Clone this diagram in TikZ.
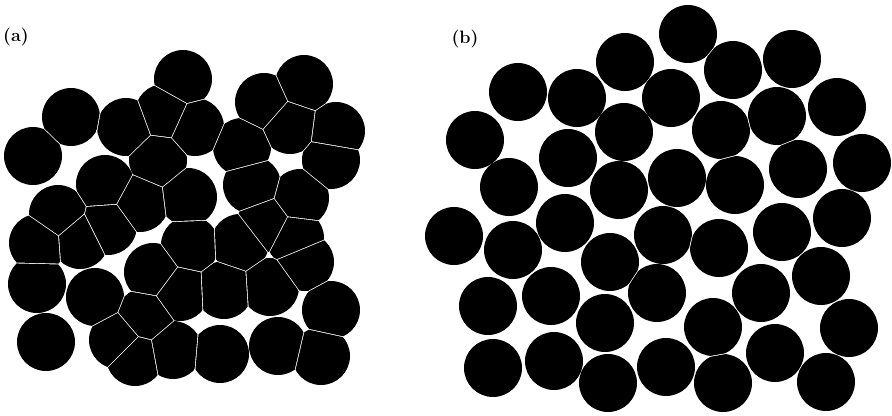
\documentclass[tikz,border=0pt]{standalone}
\usepackage{fontspec}
\usetikzlibrary{calc}
\tikzset{
    disc/.style={fill=black},
    lbl/.style={font=\fontsize{18}{20}\selectfont\bfseries, inner sep=0pt}
}
\newcommand{\rad}{29}
\newcommand{\seam}{0.45}
% each disc is cut back to its own cell, so touching discs leave a thin white seam
\newcommand{\drawpack}[1]{%
  \foreach \xa/\ya in {#1}{%
    \begin{scope}
      \foreach \xb/\yb in {#1}{%
        \pgfmathsetmacro{\dd}{veclen(\xb-\xa,\yb-\ya)}
        \ifdim\dd pt>0.1pt \ifdim\dd pt<58pt
          \pgfmathsetmacro{\ff}{0.5-\seam/\dd}
          \coordinate (m) at ($(\xa,\ya)!\ff!(\xb,\yb)$);
          \clip ($(m)!600pt!90:(\xa,\ya)$) -- ($(m)!600pt!-90:(\xa,\ya)$) -- ($(m)!600pt!(\xa,\ya)$) -- cycle;
        \fi\fi
      }
      \fill[disc] (\xa,\ya) circle[radius=\rad];
    \end{scope}
  }%
}

\begin{document}
\begin{tikzpicture}[x=1bp, y=-1bp]
    \useasboundingbox (0,0) rectangle (892,415);

    \node[lbl] (la) at (16,37) {(a)};
    \node[lbl] (lb) at (465,39) {(b)};

    % (a) deformed packing
    \drawpack{183/79, 71/117, 33/156, 126/127, 164/113, 195/127, 158/160, 105/184,
      140/203, 58/214, 188/197, 304/84, 264/102, 290/125, 336/131, 242/147,
      331/160, 252/185, 300/198, 38/243, 80/240, 37/284, 46/342, 95/297,
      153/272, 190/245, 180/292, 240/243, 224/290, 270/287, 295/238, 305/262,
      331/310, 278/346, 321/356, 220/354, 173/350, 108/226, 145/317, 118/340,
      135/357, 266/223}

    % (b) loose packing
    \drawpack{688/34, 625/62, 518/92, 577/98, 671/98, 733/70, 792/59, 837/107,
      777/116, 721/130, 624/132, 475/140, 568/158, 798/169, 862/163, 677/178,
      735/185, 509/187, 619/190, 454/236, 513/250, 565/223, 782/232, 842/218,
      663/235, 610/262, 719/248, 821/276, 657/293, 761/293, 488/306, 551/296,
      605/323, 713/327, 849/328, 775/353, 493/368, 554/361, 608/383, 666/367,
      723/383, 826/382}
\end{tikzpicture}
\end{document}
